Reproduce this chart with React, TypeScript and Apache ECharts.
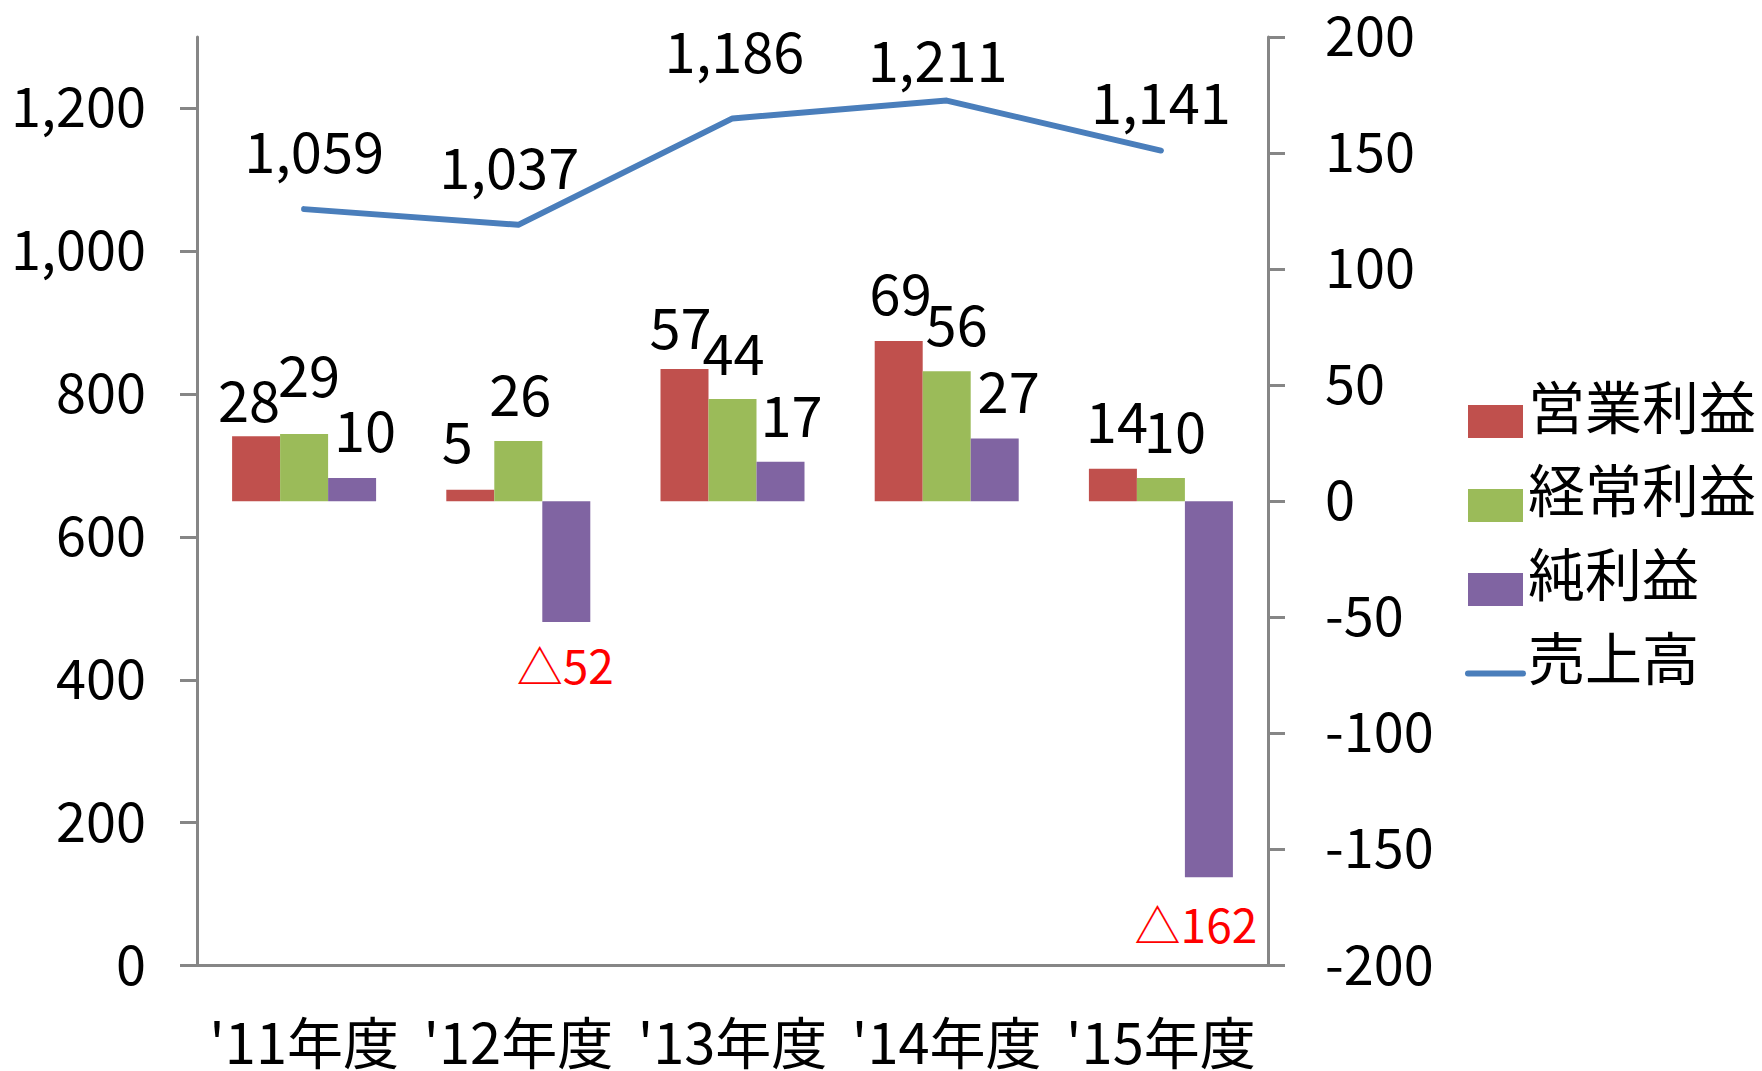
import React, { useEffect, useRef } from "react";
import * as echarts from "echarts";

const categories = ["'11年度", "'12年度", "'13年度", "'14年度", "'15年度"];
const operatingProfit = [28, 5, 57, 69, 14];
const ordinaryProfit = [29, 26, 44, 56, 10];
const netProfit = [10, -52, 17, 27, -162];
const sales = [1059, 1037, 1186, 1211, 1141];
const leftTicks = [0, 200, 400, 600, 800, 1000, 1200];
const rightTicks = [-200, -150, -100, -50, 0, 50, 100, 150, 200];

// label nudges in px (the original has hand-placed labels)
const opOffsets = [[-7, -11], [-13, -23], [-4, -16], [2, -23], [4, -22]];
const ordOffsets = [[5, -33], [2, -21], [1, -21], [10, -22], [14, -22]];
const netOffsets = [[13, -23], [-1, 19], [11, -21], [14, -22], [-13, 23]];
const salesOffsets = [[10, -32], [-9, -32], [2, -41], [-9, -15], [0, -23]];

const FONT = "'Noto Sans CJK JP', 'Noto Sans', sans-serif";
const AXIS_GRAY = "#868686";
const fmt = (v: number) => v.toLocaleString("en-US");

function barData(values: number[], offsets: number[][]) {
  return values.map((v, i) =>
    v < 0
      ? {
          value: v,
          label: {
            position: "bottom",
            color: "#FF0000",
            fontSize: 46,
            lineHeight: 46,
            offset: offsets[i],
          },
        }
      : { value: v, label: { position: "top", offset: offsets[i] } }
  );
}

const barLabel = {
  show: true,
  distance: 0,
  fontSize: 56,
  lineHeight: 56,
  color: "#000",
  fontFamily: FONT,
  formatter: (p: any) => (p.value < 0 ? "△" + Math.abs(p.value) : String(p.value)),
};

export default function App() {
  const ref = useRef<HTMLDivElement>(null);
  useEffect(() => {
    if (!ref.current) return;
    const chart = echarts.init(ref.current, undefined, { renderer: "svg" });
    chart.setOption({
      animation: false,
      backgroundColor: "#fff",
      textStyle: { fontFamily: FONT, color: "#000" },
      grid: { left: 197, right: 494, top: 37, bottom: 105.5, containLabel: false },
      legend: {
        orient: "vertical",
        left: 1460,
        top: 370,
        itemWidth: 55,
        itemHeight: 33,
        itemGap: 4,
        selectedMode: false,
        formatter: (name: string) => `{a|${name}}\n{b| }`,
        textStyle: {
          color: "#000",
          fontFamily: FONT,
          rich: {
            a: { fontSize: 57, lineHeight: 57, color: "#000", fontFamily: FONT },
            b: { fontSize: 10, lineHeight: 36 },
          },
        },
        data: [
          { name: "営業利益", icon: "rect" },
          { name: "経常利益", icon: "rect" },
          { name: "純利益", icon: "rect" },
          {
            name: "売上高",
            itemStyle: { opacity: 0 },
            lineStyle: { width: 6, cap: "round", color: "#4A7EBB" },
          },
        ],
      },
      xAxis: {
        type: "category",
        data: categories,
        boundaryGap: true,
        axisLine: { show: true, lineStyle: { color: AXIS_GRAY, width: 3 } },
        axisTick: { show: false },
        axisLabel: { fontSize: 56, color: "#000", margin: 46, fontFamily: FONT, interval: 0 },
        splitLine: { show: false },
      },
      yAxis: [
        {
          type: "value",
          position: "left",
          min: 0,
          max: 1300,
          interval: 200,
          axisLine: { show: true, lineStyle: { color: AXIS_GRAY, width: 3 } },
          axisTick: {
            show: true,
            length: 17,
            lineStyle: { color: AXIS_GRAY, width: 3 },
            customValues: leftTicks,
          },
          axisLabel: {
            fontSize: 54,
            color: "#000",
            margin: 51,
            fontFamily: FONT,
            verticalAlign: "bottom",
            lineHeight: 9,
            customValues: leftTicks,
            formatter: (v: number) => fmt(v),
          },
          splitLine: { show: false },
        },
        {
          type: "value",
          position: "right",
          min: -200,
          max: 200,
          interval: 50,
          axisLine: { show: true, lineStyle: { color: AXIS_GRAY, width: 3 } },
          axisTick: {
            show: true,
            length: 17,
            lineStyle: { color: AXIS_GRAY, width: 3 },
            customValues: rightTicks,
          },
          axisLabel: {
            fontSize: 54,
            color: "#000",
            margin: 57,
            fontFamily: FONT,
            verticalAlign: "bottom",
            lineHeight: 9,
            customValues: rightTicks,
          },
          splitLine: { show: false },
        },
      ],
      series: [
        {
          name: "営業利益",
          type: "bar",
          yAxisIndex: 1,
          barWidth: 48,
          barGap: "0%",
          itemStyle: { color: "#C0504D" },
          label: barLabel,
          data: barData(operatingProfit, opOffsets),
        },
        {
          name: "経常利益",
          type: "bar",
          yAxisIndex: 1,
          barWidth: 48,
          barGap: "0%",
          itemStyle: { color: "#9BBB59" },
          label: barLabel,
          data: barData(ordinaryProfit, ordOffsets),
        },
        {
          name: "純利益",
          type: "bar",
          yAxisIndex: 1,
          barWidth: 48,
          barGap: "0%",
          itemStyle: { color: "#8064A2" },
          label: barLabel,
          data: barData(netProfit, netOffsets),
        },
        {
          name: "売上高",
          type: "line",
          yAxisIndex: 0,
          symbol: "circle",
          symbolSize: 1,
          lineStyle: { color: "#4A7EBB", width: 6, cap: "round", join: "round" },
          itemStyle: { color: "#4A7EBB" },
          label: {
            show: true,
            position: "top",
            distance: 0,
            fontSize: 56,
            lineHeight: 56,
            color: "#000",
            fontFamily: FONT,
            formatter: (p: any) => fmt(p.value),
          },
          data: sales.map((v, i) => ({ value: v, label: { offset: salesOffsets[i] } })),
          z: 3,
        },
      ],
    });
    return () => chart.dispose();
  }, []);
  return (
    <div
      ref={ref}
      style={{ position: "absolute", left: 0, top: 0, width: 1762, height: 1071 }}
    />
  );
}
